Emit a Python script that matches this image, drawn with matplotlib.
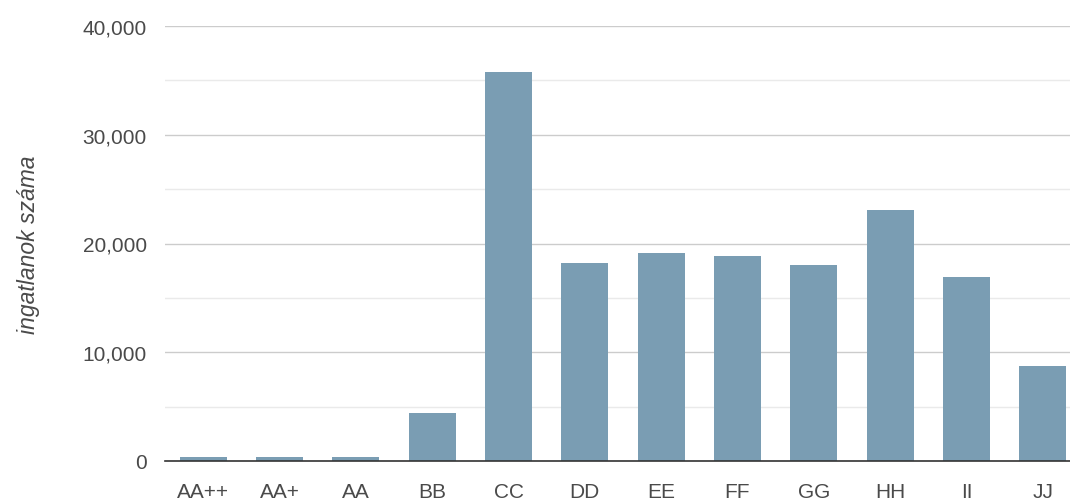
import matplotlib
matplotlib.use('Agg')
import matplotlib.pyplot as plt
from matplotlib.ticker import FuncFormatter, MultipleLocator

# ------------------ Data ------------------
categories = ['AA++', 'AA+', 'AA', 'BB', 'CC', 'DD', 'EE', 'FF', 'GG', 'HH', 'II', 'JJ']
counts = [350, 350, 350, 4400, 35800, 18200, 19100, 18850, 18000, 23100, 16900, 8700]

plt.rcParams['font.family'] = ['Liberation Sans', 'DejaVu Sans']

# ------------------ Figure ------------------
fig = plt.figure(figsize=(10.7, 5.02), dpi=100)
ax = fig.add_axes([165 / 1070, 40 / 502, 916 / 1070, 435 / 502])

ax.bar(range(len(categories)), counts, width=0.62, color='#7a9db3', zorder=3)

ax.set_xlim(-0.5, len(categories) - 0.5)
ax.set_ylim(0, 40000)
ax.yaxis.set_major_locator(MultipleLocator(10000))
ax.yaxis.set_minor_locator(MultipleLocator(5000))
ax.yaxis.set_major_formatter(FuncFormatter(lambda v, p: f'{int(v):,}'))

ax.grid(axis='y', which='major', color='#cccccc', linewidth=1, zorder=0)
ax.grid(axis='y', which='minor', color='#eaeaea', linewidth=1, zorder=0)

for s in ['top', 'right', 'left']:
    ax.spines[s].set_visible(False)
ax.spines['bottom'].set_color('#333333')
ax.spines['bottom'].set_linewidth(1.2)
ax.spines['bottom'].set_zorder(4)

ax.set_xticks(range(len(categories)))
ax.set_xticklabels(categories)
ax.tick_params(axis='both', which='both', length=0, labelsize=15, colors='#4a4a4a')
ax.tick_params(axis='y', pad=13)
ax.tick_params(axis='x', pad=15)

ax.set_ylabel('ingatlanok száma', fontsize=16.5, style='italic', color='#4a4a4a', labelpad=31)

fig.savefig('out.png', dpi=100)
